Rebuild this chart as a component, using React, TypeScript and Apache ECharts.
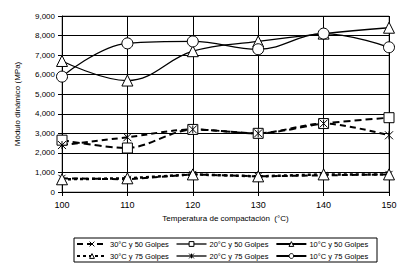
import React, { useEffect, useRef } from "react";
import * as echarts from "echarts";

const temps = [100, 110, 120, 130, 140, 150];
const s30_50 = [700, 650, 900, 800, 850, 900];
const s30_75 = [650, 700, 900, 800, 900, 900];
const s20_50 = [2650, 2250, 3200, 3000, 3500, 3800];
const s20_75 = [2400, 2800, 3200, 3000, 3500, 2900];
const s10_50 = [6700, 5700, 7200, 7700, 8100, 8400];
const s10_75 = [5900, 7600, 7700, 7300, 8100, 7400];
const yTicks = [0, 1000, 2000, 3000, 4000, 5000, 6000, 7000, 8000, 9000];

const names = [
  "30°C y 50 Golpes",
  "20°C y 50 Golpes",
  "10°C y 50 Golpes",
  "30°C y 75 Golpes",
  "20°C y 75 Golpes",
  "10°C y 75 Golpes",
];

const X_SYM = "path://M0,0L10,10M10,0L0,10";
const AST_SYM = "path://M0,0L10,10M10,0L0,10M5,0L5,10";

const pair = (arr: number[]) => temps.map((t, i) => [t, arr[i]]);
const font = "Liberation Sans, Arial, sans-serif";

export default function App() {
  const ref = useRef<HTMLDivElement>(null);
  useEffect(() => {
    const chart = echarts.init(ref.current!, null, { renderer: "svg" });
    const mk = (
      name: string,
      data: number[],
      symbol: string,
      size: number,
      type: any,
      width: number,
      smooth: number
    ) => ({
      name,
      type: "line",
      data: pair(data),
      symbol,
      symbolSize: size,
      smooth,
      lineStyle: { color: "#000", width, type },
      itemStyle: { color: "#fff", borderColor: "#000", borderWidth: 1 },
      emphasis: { disabled: true },
    });
    const legendCommon = {
      left: 76,
      padding: 0,
      itemWidth: 30,
      itemHeight: 6,
      itemGap: 7,
      itemStyle: { color: "#fff", borderColor: "#000", borderWidth: 1 },
      textStyle: { fontFamily: font, fontSize: 7.5, color: "#000", padding: [0, 0, 0, -2] },
      selectedMode: false,
    };
    chart.setOption({
      animation: false,
      backgroundColor: "#fff",
      grid: { left: 62, right: 30, top: 16, bottom: 84 },
      xAxis: {
        type: "value",
        min: 100,
        max: 150,
        interval: 10,
        name: "Temperatura de compactación  (°C)",
        nameLocation: "middle",
        nameGap: 22,
        nameTextStyle: { fontFamily: font, fontSize: 8, color: "#000" },
        axisLine: { lineStyle: { color: "#000" } },
        axisTick: { show: true, length: 4, lineStyle: { color: "#000" } },
        axisLabel: { fontFamily: font, fontSize: 9, color: "#000", margin: 8 },
        splitLine: { show: true, lineStyle: { color: "#000", width: 1 } },
      },
      yAxis: {
        type: "value",
        min: 0,
        max: 9000,
        interval: 1000,
        name: "Módulo dinámico (MPa)",
        nameLocation: "middle",
        nameGap: 41,
        nameTextStyle: { fontFamily: font, fontSize: 8, color: "#000" },
        axisLine: { show: true, lineStyle: { color: "#000" } },
        axisTick: { show: true, length: 4, lineStyle: { color: "#000" } },
        axisLabel: {
          fontFamily: font,
          fontSize: 8,
          color: "#000",
          margin: 7,
          formatter: (v: number) => (yTicks.includes(v) ? v.toLocaleString("en-US") : ""),
        },
        splitLine: { show: true, lineStyle: { color: "#000", width: 1 } },
      },
      graphic: [
        {
          type: "rect",
          shape: { x: 62, y: 16, width: 327, height: 176 },
          style: { fill: "none", stroke: "#888", lineWidth: 1 },
          z: 0,
        },
        {
          type: "rect",
          shape: { x: 74, y: 238, width: 303, height: 24 },
          style: { fill: "none", stroke: "#000", lineWidth: 1 },
        },
      ],
      legend: [
        {
          ...legendCommon,
          top: 240,
          data: [
            { name: names[0] },
            { name: names[1], lineStyle: { type: "solid", width: 1.3 } },
            { name: names[2] },
          ],
        },
        {
          ...legendCommon,
          top: 252,
          data: [
            { name: names[3] },
            { name: names[4], lineStyle: { type: "solid", width: 1.3 } },
            { name: names[5] },
          ],
        },
      ],
      series: [
        mk(names[0], s30_50, X_SYM, 7, [6, 4], 2, 0),
        mk(names[1], s20_50, "rect", 10, [7, 4], 2, 0.3),
        mk(names[2], s10_50, "triangle", 11, "solid", 1.3, 0.4),
        mk(names[3], s30_75, "triangle", 11, [3, 3], 2.5, 0),
        mk(names[4], s20_75, AST_SYM, 8, [6, 4], 2, 0.3),
        mk(names[5], s10_75, "circle", 11, "solid", 1.3, 0.4),
      ],
    });
    return () => chart.dispose();
  }, []);
  return (
    <div
      ref={ref}
      style={{ position: "fixed", left: 0, top: 0, width: 419, height: 276 }}
    />
  );
}
